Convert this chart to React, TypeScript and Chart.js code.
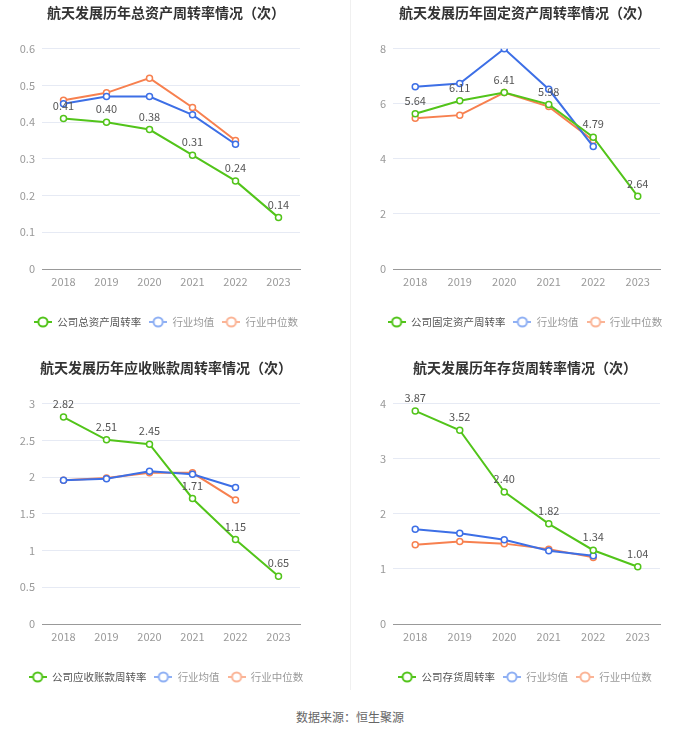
import { useEffect, useRef } from 'react';
import { Chart, registerables } from 'chart.js';

Chart.register(...registerables);

const years = ['2018', '2019', '2020', '2021', '2022', '2023'];

// 总资产周转率
const totalAssetCompany = [0.41, 0.40, 0.38, 0.31, 0.24, 0.14];
const totalAssetMean = [0.45, 0.47, 0.47, 0.42, 0.34];
const totalAssetMedian = [0.46, 0.48, 0.52, 0.44, 0.35];

// 固定资产周转率
const fixedAssetCompany = [5.64, 6.11, 6.41, 5.98, 4.79, 2.64];
const fixedAssetMean = [6.62, 6.74, 8.0, 6.53, 4.45];
const fixedAssetMedian = [5.48, 5.59, 6.41, 5.9, 4.67];

// 应收账款周转率
const receivableCompany = [2.82, 2.51, 2.45, 1.71, 1.15, 0.65];
const receivableMean = [1.96, 1.98, 2.08, 2.04, 1.86];
const receivableMedian = [1.96, 1.99, 2.06, 2.06, 1.69];

// 存货周转率
const inventoryCompany = [3.87, 3.52, 2.4, 1.82, 1.34, 1.04];
const inventoryMean = [1.72, 1.65, 1.53, 1.33, 1.24];
const inventoryMedian = [1.44, 1.5, 1.46, 1.36, 1.21];

const GREEN = '#52c41a';
const BLUE = '#3d6fe6';
const ORANGE = '#f7804f';
const FONT = '"Noto Sans CJK SC", "Noto Sans", sans-serif';

function legendIcon(color: string): HTMLCanvasElement {
  const c = document.createElement('canvas');
  c.width = 18;
  c.height = 12;
  const ctx = c.getContext('2d')!;
  ctx.strokeStyle = color;
  ctx.lineWidth = 2;
  ctx.beginPath();
  ctx.moveTo(0, 6);
  ctx.lineTo(18, 6);
  ctx.stroke();
  ctx.beginPath();
  ctx.arc(9, 6, 4.6, 0, Math.PI * 2);
  ctx.fillStyle = '#fff';
  ctx.fill();
  ctx.stroke();
  return c;
}

const dataLabelPlugin = {
  id: 'companyLabels',
  afterDatasetsDraw(chart: any) {
    const meta = chart.getDatasetMeta(0);
    const ds = chart.data.datasets[0];
    const ctx = chart.ctx;
    ctx.save();
    ctx.font = `11px ${FONT}`;
    ctx.fillStyle = '#555';
    ctx.textAlign = 'center';
    ctx.textBaseline = 'middle';
    meta.data.forEach((pt: any, i: number) => {
      ctx.fillText(Number(ds.data[i]).toFixed(2), pt.x, pt.y - 13);
    });
    ctx.restore();
  },
};

interface PanelProps {
  title: string;
  name: string;
  company: number[];
  mean: number[];
  median: number[];
  max: number;
  step: number;
  left: number;
  top: number;
  width: number;
  yWidth: number;
  rightWidth: number;
}

function Panel(p: PanelProps) {
  const ref = useRef<HTMLCanvasElement>(null);
  useEffect(() => {
    const icons = [legendIcon(GREEN), legendIcon('#8fb0f4'), legendIcon('#fbb496')];
    const textColors = ['#555', '#999', '#999'];
    const mk = (label: string, data: number[], color: string) => ({
      label,
      data,
      borderColor: color,
      backgroundColor: '#fff',
      pointBackgroundColor: '#fff',
      pointBorderColor: color,
      pointRadius: 3,
      pointBorderWidth: 1.5,
      borderWidth: 2,
      tension: 0,
    });
    const chart = new Chart(ref.current!, {
      type: 'line',
      data: {
        labels: years,
        datasets: [
          mk(p.name, p.company, GREEN),
          mk('行业均值', p.mean, BLUE),
          mk('行业中位数', p.median, ORANGE),
        ],
      },
      options: {
        animation: false,
        responsive: false,
        layout: { padding: { left: 0, right: 0, top: 0, bottom: 2.75 } },
        plugins: {
          title: {
            display: true,
            text: p.title,
            color: '#333',
            font: { family: FONT, size: 14, weight: 'bold' },
            padding: { top: 4, bottom: 28 },
          },
          legend: {
            position: 'bottom',
            labels: {
              usePointStyle: true,
              pointStyleWidth: 18,
              boxHeight: 12,
              padding: 8,
              font: { family: FONT, size: 10.5 },
              generateLabels: (c: any) =>
                c.data.datasets.map((d: any, i: number) => ({
                  text: d.label,
                  pointStyle: icons[i],
                  fontColor: textColors[i],
                  fillStyle: '#fff',
                  strokeStyle: d.borderColor,
                  lineWidth: 0,
                  hidden: false,
                  datasetIndex: i,
                })),
            },
          },
          tooltip: { enabled: false },
        },
        scales: {
          x: {
            offset: true,
            grid: { display: false, drawTicks: false, offset: true },
            border: { color: '#999', width: 1 },
            ticks: { color: '#999', font: { family: FONT, size: 11 }, padding: 6 },
            afterFit: (s: any) => {
              s.height = 39.75;
            },
          },
          y: {
            min: 0,
            max: p.max,
            grid: { color: '#e6eaf4', drawTicks: false },
            border: { display: false },
            ticks: {
              stepSize: p.step,
              color: '#999',
              font: { family: FONT, size: 11 },
              padding: 7,
              callback: (v: any) => String(Math.round(Number(v) * 100) / 100),
            },
            afterFit: (s: any) => {
              s.width = p.yWidth;
            },
          },
          yRight: {
            type: 'linear',
            position: 'right',
            grid: { display: false, drawTicks: false },
            border: { display: false },
            ticks: { display: false },
            afterFit: (s: any) => {
              s.width = p.rightWidth;
            },
          },
        },
      } as any,
      plugins: [dataLabelPlugin],
    });
    return () => chart.destroy();
  }, []);
  return (
    <canvas
      ref={ref}
      width={p.width}
      height={340}
      style={{ position: 'absolute', left: p.left, top: p.top, width: p.width, height: 340 }}
    />
  );
}

export default function App() {
  return (
    <div
      style={{
        position: 'fixed',
        left: 0,
        top: 0,
        width: 700,
        height: 734,
        background: '#fff',
        overflow: 'hidden',
        fontFamily: FONT,
      }}
    >
      <div style={{ position: 'absolute', left: 350, top: 0, width: 1, height: 690, background: '#f0f0f0' }} />
      <Panel
        title="航天发展历年总资产周转率情况（次）"
        name="公司总资产周转率"
        company={totalAssetCompany}
        mean={totalAssetMean}
        median={totalAssetMedian}
        max={0.6}
        step={0.1}
        left={0}
        top={0}
        width={332}
        yWidth={42}
        rightWidth={32}
      />
      <Panel
        title="航天发展历年固定资产周转率情况（次）"
        name="公司固定资产周转率"
        company={fixedAssetCompany}
        mean={fixedAssetMean}
        median={fixedAssetMedian}
        max={8}
        step={2}
        left={350}
        top={0}
        width={350}
        yWidth={43}
        rightWidth={40}
      />
      <Panel
        title="航天发展历年应收账款周转率情况（次）"
        name="公司应收账款周转率"
        company={receivableCompany}
        mean={receivableMean}
        median={receivableMedian}
        max={3}
        step={0.5}
        left={0}
        top={355}
        width={332}
        yWidth={42}
        rightWidth={32}
      />
      <Panel
        title="航天发展历年存货周转率情况（次）"
        name="公司存货周转率"
        company={inventoryCompany}
        mean={inventoryMean}
        median={inventoryMedian}
        max={4}
        step={1}
        left={350}
        top={355}
        width={350}
        yWidth={43}
        rightWidth={40}
      />
      <div
        style={{
          position: 'absolute',
          left: 0,
          top: 708,
          width: 700,
          textAlign: 'center',
          fontSize: 12,
          color: '#666',
          lineHeight: '18px',
        }}
      >
        数据来源：恒生聚源
      </div>
    </div>
  );
}
